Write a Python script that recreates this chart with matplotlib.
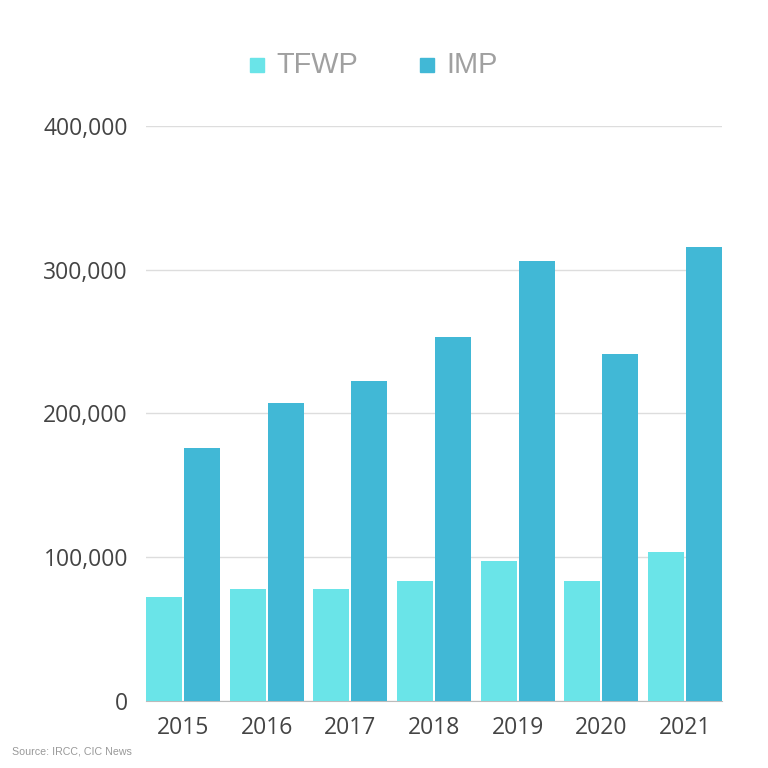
import numpy as np
import matplotlib.pyplot as plt
from matplotlib.patches import Rectangle

# dati
anni = ['2015', '2016', '2017', '2018', '2019', '2020', '2021']
tfwp = [72400, 78200, 77900, 83500, 97400, 83800, 103700]
imp = [176300, 207300, 222600, 253300, 305800, 241300, 315500]

col_tfwp = '#6ae4e8'
col_imp = '#41b8d6'

fig = plt.figure(figsize=(7.68, 7.68), dpi=100)
ax = fig.add_axes([146/768, 1-701/768, 576/768, 575/768])

x = np.arange(len(anni))
w = 0.43
off = 0.226
ax.bar(x - off, tfwp, w, color=col_tfwp, zorder=3)
ax.bar(x + off, imp, w, color=col_imp, zorder=3)

ax.set_xlim(-off - w/2, len(anni) - 1 + off + w/2)
ax.set_ylim(0, 400000)
ax.set_yticks([0, 100000, 200000, 300000, 400000])
ax.set_yticklabels(['0', '100,000', '200,000', '300,000', '400,000'])
ax.set_xticks(x)
ax.set_xticklabels(anni)
ax.tick_params(length=0, labelsize=16.5, colors='#444444')
for lab in ax.get_xticklabels() + ax.get_yticklabels():
    lab.set_family('Open Sans')
ax.tick_params(axis='y', pad=13)
ax.tick_params(axis='x', pad=11)

ax.grid(axis='y', color='#dddddd', linewidth=1, zorder=0)
for s in ['top', 'right', 'left']:
    ax.spines[s].set_visible(False)
ax.spines['bottom'].set_color('#bbbbbb')

# legenda fatta a mano
fig.patches.append(Rectangle((250/768, 1-72/768), 14/768, 14/768,
                             transform=fig.transFigure, color=col_tfwp))
fig.patches.append(Rectangle((420/768, 1-72/768), 14/768, 14/768,
                             transform=fig.transFigure, color=col_imp))
fig.text(276/768, 1-65/768, 'TFWP', fontsize=20.8, color='#a0a0a0',
         family='Liberation Sans', va='center')
fig.text(446/768, 1-65/768, 'IMP', fontsize=20.8, color='#a0a0a0',
         family='Liberation Sans', va='center')

fig.text(12/768, 1-752/768, 'Source: IRCC, CIC News', fontsize=7.7,
         color='#999999', family='Liberation Sans', va='center')

plt.savefig('out.png', dpi=100)
